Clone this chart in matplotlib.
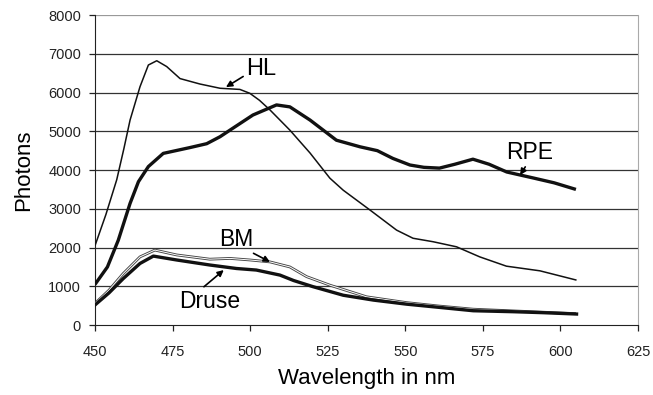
import matplotlib.pyplot as plt

plt.rcParams['font.family'] = ['Liberation Sans', 'DejaVu Sans']

# HL (thin line)
hl_nm = [450, 453.5, 457, 459.3, 461.3, 464.5, 467.2, 469.9, 473.1, 477.4, 483.8, 490.3, 496.7, 499.9,
         503, 506.4, 512.8, 519.3, 525.7, 530, 538.6, 547.2, 552.5, 559, 566.5, 574, 582.6, 593.4, 605.2]
hl_val = [2050, 2850, 3750, 4550, 5290, 6150, 6710, 6820, 6670, 6360, 6220, 6110, 6080, 5980,
          5800, 5550, 5030, 4440, 3790, 3480, 2970, 2450, 2240, 2150, 2020, 1760, 1520, 1400, 1160]

# RPE (thick line)
rpe_nm = [450, 454, 457.5, 461.3, 464, 467.2, 472, 480.6, 486, 490.3, 493.5, 500.9, 508.5, 512.8,
          519.3, 527.8, 535.4, 541, 546, 551.5, 556, 561, 566, 571.8, 577, 582.7, 591, 598, 605]
rpe_val = [1050, 1500, 2190, 3140, 3700, 4090, 4430, 4580, 4680, 4860, 5030, 5420, 5680, 5630,
           5290, 4770, 4600, 4500, 4300, 4130, 4070, 4050, 4150, 4280, 4150, 3950, 3800, 3670, 3500]

# BM (outlined thin line)
bm_nm = [450, 454.5, 459.1, 464.5, 469.3, 476.3, 487, 493.5, 499.9, 506.4, 512.8, 518.2,
         525.7, 537.5, 550.4, 561, 571.9, 585, 595, 605]
bm_val = [560, 900, 1330, 1760, 1935, 1810, 1700, 1720, 1680, 1630, 1500, 1250,
          1030, 730, 580, 490, 410, 365, 330, 295]

# Druse (thick line)
dr_nm = [450, 454.5, 459.1, 464.5, 468.8, 476.3, 487, 495.6, 502, 509.6, 514, 520.3, 530,
         539.7, 550.4, 561.2, 571.9, 584.8, 594.4, 605.2]
dr_val = [520, 830, 1200, 1590, 1780, 1680, 1550, 1460, 1420, 1290, 1150, 990, 770,
          645, 540, 455, 370, 345, 320, 285]

xticks = [450, 475, 500, 525, 550, 575, 600, 625]
yticks = [0, 1000, 2000, 3000, 4000, 5000, 6000, 7000, 8000]

fig = plt.figure(figsize=(6.53, 3.95), dpi=100)
ax = fig.add_axes([0.1455, 0.177, 0.8315, 0.785])

for y in yticks[1:-1]:
    ax.axhline(y, color='#333333', lw=0.9, zorder=1)
ax.axhline(8000, color='#999999', lw=0.9, zorder=1)

line_kw = dict(solid_joinstyle='round', solid_capstyle='butt', zorder=3)
ax.plot(hl_nm, hl_val, color='#111111', lw=1.1, **line_kw)
ax.plot(rpe_nm, rpe_val, color='#111111', lw=2.4, **line_kw)
ax.plot(bm_nm, bm_val, color='#444444', lw=2.0, **line_kw)
ax.plot(bm_nm, bm_val, color='white', lw=0.7, **line_kw)
ax.plot(dr_nm, dr_val, color='#111111', lw=2.4, solid_joinstyle='round', zorder=4)

ax.set_xlim(450, 625)
ax.set_ylim(0, 8000)
ax.set_xticks(xticks)
ax.set_yticks(yticks)
ax.tick_params(direction='out', length=4, width=0.9, labelsize=10.5, colors='#222222', pad=6)
ax.tick_params(axis='x', pad=10)

ax.spines['top'].set_visible(False)
ax.spines['right'].set_color('#aaaaaa')
ax.spines['left'].set_color('#222222')
ax.spines['bottom'].set_color('#222222')

ax.set_xlabel('Wavelength in nm', fontsize=16, labelpad=7)
ax.set_ylabel('Photons', fontsize=16, labelpad=10)

arrow = dict(arrowstyle='-|>', color='black', lw=1.2, mutation_scale=9, shrinkA=0, shrinkB=0)
ax.annotate('HL', xy=(492.2, 6140), xytext=(503.5, 6600), fontsize=17, ha='center', va='center',
            arrowprops=dict(arrow, relpos=(0, 0.25)))
ax.annotate('RPE', xy=(587, 3870), xytext=(590, 4450), fontsize=16.5, ha='center', va='center',
            arrowprops=dict(arrow, relpos=(0.45, 0)))
ax.annotate('BM', xy=(506.4, 1630), xytext=(495.5, 2220), fontsize=16.5, ha='center', va='center',
            arrowprops=dict(arrow, relpos=(0.85, 0)))
ax.annotate('Druse', xy=(491.5, 1420), xytext=(487, 620), fontsize=16.5, ha='center', va='center',
            arrowprops=dict(arrow, relpos=(0.35, 1)))

fig.savefig('out.png', dpi=100)
